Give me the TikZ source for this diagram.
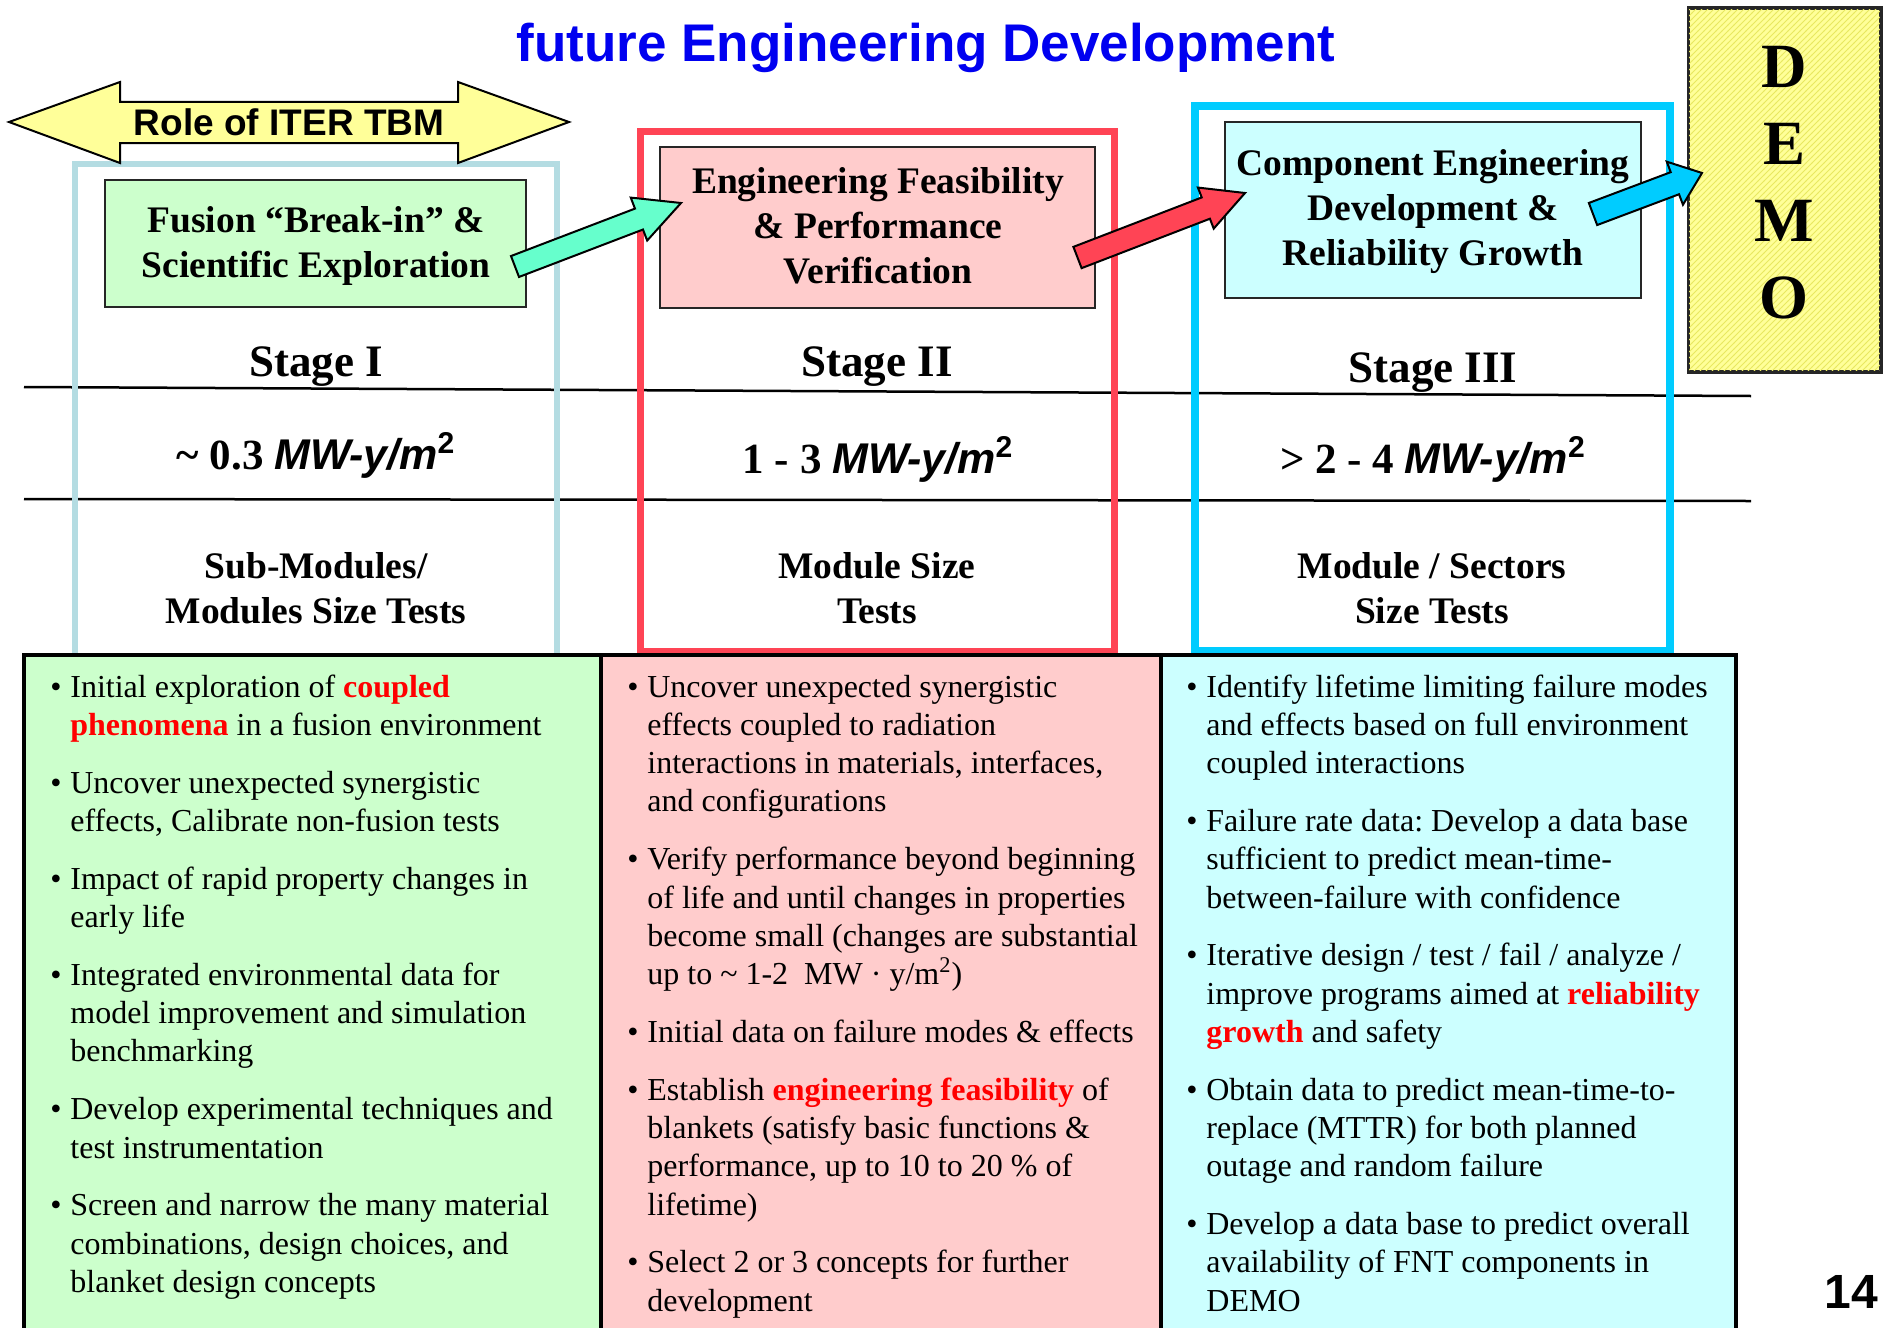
\documentclass[tikz,border=0pt]{standalone}
\usepackage{fontspec}
\setmainfont{Liberation Serif}
\newfontfamily\arialfont{Liberation Sans}
\usetikzlibrary{calc,patterns}
\frenchspacing
\definecolor{frameblue}{HTML}{B4DCE2}
\definecolor{framered}{HTML}{FF4455}
\definecolor{framecyan}{HTML}{00CCFF}
\definecolor{fillgreen}{HTML}{CCFFCC}
\definecolor{fillpink}{HTML}{FFCCCC}
\definecolor{fillcyan}{HTML}{CCFFFF}
\definecolor{fillyellow}{HTML}{FFFF99}
\definecolor{hatchyellow}{HTML}{E8E860}
\definecolor{arrowgreen}{HTML}{66FFCC}
\definecolor{titleblue}{HTML}{0000F0}
\definecolor{hlred}{HTML}{FF0000}
\newcommand{\hlr}[1]{\textcolor{hlred}{\bfseries #1}}
\newcommand{\bitem}{\par\noindent\hangindent=10pt\hangafter=1\makebox[10pt][l]{\textbullet}}
\newcommand{\colbody}[1]{\parbox[t]{290pt}{\fontsize{16}{19.15}\selectfont\frenchspacing\parindent=0pt\parskip=9.75pt #1}}
\newcommand{\ctrbox}[1]{\parbox[t]{300pt}{\centering #1}}
\newcommand{\fatarrow}[6]{%
  \coordinate (#1h) at ($(#2)!#6!(#1)$);
  \draw[blockarrow, fill=#3] ($(#1)!#4!90:(#2)$) -- ($(#1h)!#4!90:(#2)$) -- ($(#1h)!#5!90:(#2)$) -- (#2) -- ($(#1h)!#5!-90:(#2)$) -- ($(#1h)!#4!-90:(#2)$) -- ($(#1)!#4!-90:(#2)$) -- cycle;}
\tikzset{
  hline/.style={line width=1.25pt, draw=black},
  frameI/.style={draw=frameblue, line width=3pt},
  frameII/.style={draw=framered, line width=3.5pt},
  frameIII/.style={draw=framecyan, line width=4pt},
  stagebox/.style={draw=black!85, line width=1.25pt, inner sep=0pt, rectangle},
  cell/.style={draw=black, line width=2pt},
  blockarrow/.style={draw=black, line width=1pt, line join=miter},
  boxtext/.style={anchor=base, inner sep=0pt, font=\bfseries\fontsize{18.75}{22.5}\selectfont},
  stagetext/.style={anchor=base, inner sep=0pt, font=\bfseries\fontsize{22.5}{27}\selectfont},
  fluencetext/.style={anchor=base, inner sep=0pt, font=\bfseries\fontsize{21.5}{26}\selectfont},
  sizetext/.style={anchor=base, inner sep=0pt, font=\bfseries\fontsize{18.75}{22.5}\selectfont},
  bodytext/.style={anchor=base west, inner sep=0pt},
}
\newcommand{\mwy}{{\arialfont\bfseries\itshape MW-y/m\textsuperscript{\upshape 2}}}
\begin{document}
\begin{tikzpicture}[x=0.5pt,y=-0.5pt]
\fill[white] (0,0) rectangle (1888,1327);
\useasboundingbox (0,0) rectangle (1888,1327);

% title
\node[anchor=base, inner sep=0pt, text=titleblue, font=\arialfont\bfseries\fontsize{26.5}{31}\selectfont] (title) at (926,62) {future Engineering Development};

% horizontal rules
\coordinate (r1a) at (24,387); \coordinate (r1b) at (1751,396);
\coordinate (r2a) at (24,499); \coordinate (r2b) at (1751,501);
\draw[hline] (r1a) -- (r1b);
\draw[hline] (r2a) -- (r2b);

% stage frames
\draw[frameI] (74.5,163.5) rectangle (557,656);
\draw[frameII] (640,131.5) rectangle (1114.5,651);
\draw[frameIII] (1195,106) rectangle (1670,651);

% stage boxes
\node[stagebox, fill=fillgreen, minimum width=210.5pt, minimum height=63.5pt] (boxI) at (315.5,243.5) {};
\node[boxtext] (boxItext) at (316,232) {\ctrbox{Fusion ``Break-in'' \&\\Scientific Exploration}};
\node[stagebox, fill=fillpink, minimum width=217.5pt, minimum height=80.5pt] (boxII) at (877.5,227.5) {};
\node[boxtext] (boxIItext) at (878,193) {\ctrbox{Engineering Feasibility\\\& Performance\\Verification}};
\node[stagebox, fill=fillcyan, minimum width=208pt, minimum height=88pt] (boxIII) at (1433,210) {};
\node[boxtext] (boxIIItext) at (1433,175) {\ctrbox{Component Engineering\\Development \&\\Reliability Growth}};

% DEMO
\node[stagebox, fill=fillyellow, minimum width=95.5pt, minimum height=181pt, postaction={pattern=north east lines, pattern color=hatchyellow}] (demo) at (1784.5,190) {};
\draw[draw=black!85, line width=1.25pt] (demo.south west) rectangle (demo.north east);
\node[anchor=base, inner sep=0pt, font=\bfseries\fontsize{31.5}{38.5}\selectfont] (demotext) at (1784,88) {\parbox[t]{60pt}{\centering D\\E\\M\\O}};

% Role of ITER TBM double arrow
\draw[blockarrow, fill=fillyellow] (9,122) -- (120,82) -- (120,102) -- (458,102) -- (458,82) -- (569,122) -- (458,163) -- (458,143) -- (120,143) -- (120,163) -- cycle;
\node[anchor=base, inner sep=0pt, font=\arialfont\bfseries\fontsize{18.5}{22}\selectfont] (role) at (289,135) {Role of ITER TBM};

% stage labels
\node[stagetext] (stI) at (316,376) {Stage I};
\node[stagetext] (stII) at (877,376) {Stage II};
\node[stagetext] (stIII) at (1433,382) {Stage III};

\node[fluencetext] (flI) at (316,469) {\textasciitilde\ 0.3 \mwy};
\node[fluencetext] (flII) at (878,473) {1 - 3 \mwy};
\node[fluencetext] (flIII) at (1433,473) {> 2 - 4 \mwy};

\node[sizetext] (szI) at (316,578) {\ctrbox{Sub-Modules/\\Modules Size Tests}};
\node[sizetext] (szII) at (877,578) {\ctrbox{Module Size\\Tests}};
\node[sizetext] (szIII) at (1432,578) {\ctrbox{Module / Sectors\\Size Tests}};

% table
\draw[cell, fill=fillgreen] (24,655) rectangle (601,1345);
\draw[cell, fill=fillpink] (601,655) rectangle (1161,1345);
\draw[cell, fill=fillcyan] (1161,655) rectangle (1736,1345);

\node[bodytext] (colI) at (50,697) {\colbody{%
\bitem Initial exploration of \hlr{coupled}\\\hlr{phenomena} in a fusion environment
\bitem Uncover unexpected synergistic\\effects, Calibrate non-fusion tests
\bitem Impact of rapid property changes in\\early life
\bitem Integrated environmental data for\\model improvement and simulation\\benchmarking
\bitem Develop experimental techniques and\\test instrumentation
\bitem Screen and narrow the many material\\combinations, design choices, and\\blanket design concepts}};

\node[bodytext] (colII) at (627,697) {\colbody{%
\bitem Uncover unexpected synergistic\\effects coupled to radiation\\interactions in materials, interfaces,\\and configurations
\bitem Verify performance beyond beginning\\of life and until changes in properties\\become small (changes are substantial\\up to \textasciitilde\ 1-2\ \ MW · y/m\textsuperscript{2})
\bitem Initial data on failure modes \& effects
\bitem Establish \hlr{engineering feasibility} of\\blankets (satisfy basic functions \&\\performance, up to 10 to 20 \% of\\lifetime)
\bitem Select 2 or 3 concepts for further\\development}};

\node[bodytext] (colIII) at (1186,697) {\colbody{%
\bitem Identify lifetime limiting failure modes\\and effects based on full environment\\coupled interactions
\bitem Failure rate data: Develop a data base\\sufficient to predict mean-time-\\between-failure with confidence
\bitem Iterative design / test / fail / analyze /\\improve programs aimed at \hlr{reliability}\\\hlr{growth} and safety
\bitem Obtain data to predict mean-time-to-\\replace (MTTR) for both planned\\outage and random failure
\bitem Develop a data base to predict overall\\availability of FNT components in\\DEMO}};

% block arrows between stages
\coordinate (gA) at (515,266.5); \coordinate (gB) at (681,203);
\fatarrow{gA}{gB}{arrowgreen}{5.6pt}{11.5pt}{22.5pt}
\coordinate (rA) at (1077.5,257.5); \coordinate (rB) at (1245,193);
\fatarrow{rA}{rB}{framered}{5.7pt}{11pt}{21pt}
\coordinate (cA) at (1593,214); \coordinate (cB) at (1702,173);
\fatarrow{cA}{cB}{framecyan}{5.9pt}{11.5pt}{14.5pt}

% page number
\node[anchor=base, inner sep=0pt, font=\arialfont\bfseries\fontsize{24}{28}\selectfont] (pagenum) at (1851,1308) {14};
\end{tikzpicture}
\end{document}
